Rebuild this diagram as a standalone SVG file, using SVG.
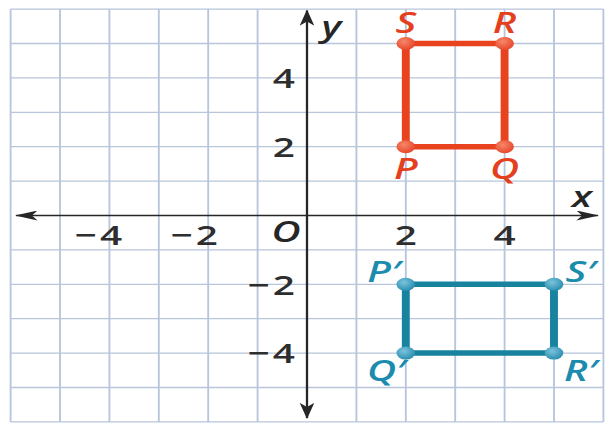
<svg xmlns="http://www.w3.org/2000/svg" width="608" height="423" viewBox="0 0 608 423">
<defs>
<style>
.grid{fill:none;stroke:#b7c6db;stroke-width:1.3}
.axis{fill:none;stroke:#262626;stroke-width:1.6}
.num{font-family:"Open Sans","Liberation Sans",sans-serif;font-weight:600;font-size:27px;fill:#2e2e2e}
.lab{font-family:"Open Sans","Liberation Sans",sans-serif;font-style:italic;font-weight:600;font-size:28px}
.red{fill:#e5401d}
.teal{fill:#1b8cae}
.rline{fill:none;stroke:#e8421f;stroke-width:5.5;stroke-linejoin:round}
.tline{fill:none;stroke:#18839f;stroke-width:5.5;stroke-linejoin:round}
.rdot{fill:url(#rg)}
.tdot{fill:url(#tg)}
</style>
<radialGradient id="rg" cx="40%" cy="35%" r="65%">
<stop offset="0" stop-color="#f7876a"/>
<stop offset="1" stop-color="#e6482a"/>
</radialGradient>
<radialGradient id="tg" cx="40%" cy="35%" r="65%">
<stop offset="0" stop-color="#7cc3dc"/>
<stop offset="1" stop-color="#2a8fb0"/>
</radialGradient>
<marker id="arr" viewBox="0 0 16 10" refX="15" refY="5" markerWidth="16" markerHeight="10" markerUnits="userSpaceOnUse" orient="auto-start-reverse">
<path d="M0,0 L16,5 L0,10 L4,5 Z" fill="#262626"/>
</marker>
</defs>
<rect width="608" height="423" fill="#ffffff"/>
<g transform="translate(307 215.5) scale(1.436 1)">
<g id="grid">
<path class="grid" d="M-206.4,-206.4V206.4M-172,-206.4V206.4M-137.6,-206.4V206.4M-103.2,-206.4V206.4M-68.8,-206.4V206.4M-34.4,-206.4V206.4M34.4,-206.4V206.4M68.8,-206.4V206.4M103.2,-206.4V206.4M137.6,-206.4V206.4M172,-206.4V206.4M206.4,-206.4V206.4M-206.4,-206.4H206.4M-206.4,-172H206.4M-206.4,-137.6H206.4M-206.4,-103.2H206.4M-206.4,-68.8H206.4M-206.4,-34.4H206.4M-206.4,34.4H206.4M-206.4,68.8H206.4M-206.4,103.2H206.4M-206.4,137.6H206.4M-206.4,172H206.4M-206.4,206.4H206.4"/>
</g>
<g id="axes">
<line class="axis" x1="-202.6" y1="0" x2="202.6" y2="0" marker-start="url(#arr)" marker-end="url(#arr)"/>
<line class="axis" x1="0" y1="-205" x2="0" y2="202.5" marker-start="url(#arr)" marker-end="url(#arr)"/>
<text class="lab" x="191.5" y="-8.5" text-anchor="middle" fill="#262626">x</text>
<text class="lab" x="17" y="-178.5" text-anchor="middle" fill="#262626">y</text>
<text class="lab" x="-14.6" y="26.5" text-anchor="middle" fill="#262626">O</text>
</g>
<g id="ticks">
<text class="num" x="-126.8" y="30" text-anchor="end" letter-spacing="2">−4</text>
<text class="num" x="-60" y="30" text-anchor="end" letter-spacing="2">−2</text>
<text class="num" x="68.8" y="30" text-anchor="middle">2</text>
<text class="num" x="137.6" y="30" text-anchor="middle">4</text>
<text class="num" x="-8.4" y="-127.5" text-anchor="end">4</text>
<text class="num" x="-8.4" y="-58.5" text-anchor="end">2</text>
<text class="num" x="-6.4" y="79.5" text-anchor="end" letter-spacing="2">−2</text>
<text class="num" x="-6.4" y="147.5" text-anchor="end" letter-spacing="2">−4</text>
</g>
<g id="connectors">
<path class="rline" d="M68.8,-68.8H137.6V-172H68.8Z"/>
<path class="tline" d="M68.8,68.8H172V137.6H68.8Z"/>
</g>
<g id="P"><ellipse class="rdot" cx="68.8" cy="-68.8" rx="6.5" ry="6.5"/><text class="lab red" x="68.8" y="-36.5" text-anchor="middle">P</text></g>
<g id="Q"><ellipse class="rdot" cx="137.6" cy="-68.8" rx="6.5" ry="6.5"/><text class="lab red" x="137.6" y="-36.5" text-anchor="middle">Q</text></g>
<g id="R"><ellipse class="rdot" cx="137.6" cy="-172" rx="6.5" ry="6.5"/><text class="lab red" x="137.6" y="-182.5" text-anchor="middle">R</text></g>
<g id="S"><ellipse class="rdot" cx="68.8" cy="-172" rx="6.5" ry="6.5"/><text class="lab red" x="68.8" y="-182.5" text-anchor="middle">S</text></g>
<g id="P1"><ellipse class="tdot" cx="68.8" cy="68.8" rx="6.5" ry="6.5"/><text class="lab teal" x="65.5" y="66.5" text-anchor="end">P′</text></g>
<g id="S1"><ellipse class="tdot" cx="172" cy="68.8" rx="6.5" ry="6.5"/><text class="lab teal" x="180" y="66.5">S′</text></g>
<g id="R1"><ellipse class="tdot" cx="172" cy="137.6" rx="6.5" ry="6.5"/><text class="lab teal" x="179" y="166">R′</text></g>
<g id="Q1"><ellipse class="tdot" cx="68.8" cy="137.6" rx="6.5" ry="6.5"/><text class="lab teal" x="69" y="166" text-anchor="end">Q′</text></g>
</g>
</svg>
